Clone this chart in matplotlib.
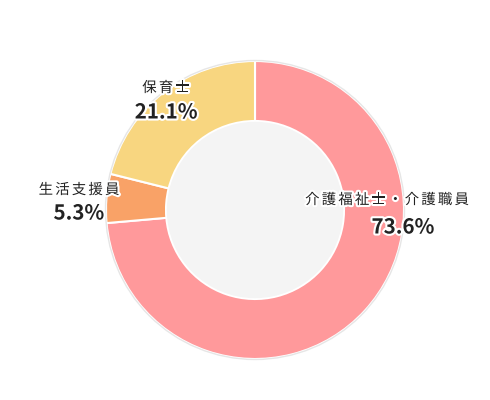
import matplotlib
matplotlib.use("Agg")
import matplotlib.pyplot as plt
import matplotlib.patheffects as pe
from matplotlib.patches import Circle

categories = ["介護福祉士・介護職員", "生活支援員", "保育士"]
values = [73.6, 5.3, 21.1]
pct_labels = ["73.6%", "5.3%", "21.1%"]
colors = ["#FF999B", "#F9A267", "#F8D680"]

plt.rcParams['font.family'] = ['Noto Sans CJK JP', 'DejaVu Sans']

fig = plt.figure(figsize=(4.9, 4.0), dpi=100)
ax = fig.add_axes([0, 0, 1, 1])

cx, cy, R = 255, 190, 149
wedges, _ = ax.pie(values, colors=colors, startangle=90, counterclock=False,
                   center=(cx, cy), radius=R, frame=True,
                   wedgeprops=dict(width=R - 89, edgecolor='white', linewidth=1.5))
ax.set_xlim(0, 490)
ax.set_ylim(0, 400)
ax.set_aspect('equal')
ax.axis('off')
ax.add_patch(Circle((cx, cy), R + 0.5, fill=False, edgecolor='#e6e6e6', lw=1.0, zorder=3))
ax.add_patch(Circle((cx, cy), 89 - 0.8, facecolor='#F4F4F4', edgecolor='none', zorder=3))

stroke = [pe.withStroke(linewidth=3, foreground='white')]

def spaced(text, xc, y, pitch=16.6, size=10.4):
    n = len(text)
    x0 = xc - pitch * (n - 1) / 2
    for i, ch in enumerate(text):
        ax.text(x0 + i * pitch, y, ch, ha='center', va='center', fontsize=size,
                color='#222222', path_effects=stroke, zorder=5)

# label positions (pixel coords, y from top)
pos = {
    0: ((387, 200), (403, 227)),
    1: ((79, 190), (79, 213)),
    2: ((166, 88), (166, 112)),
}
for i, cat in enumerate(categories):
    (nx, ny), (px, py) = pos[i]
    spaced(cat, nx, 400 - ny)
    ax.text(px, 400 - py, pct_labels[i], ha='center', va='center', fontsize=14.8,
            fontweight='bold', color='#222222', path_effects=stroke, zorder=5)

fig.savefig("out.png", dpi=100, facecolor='white')
